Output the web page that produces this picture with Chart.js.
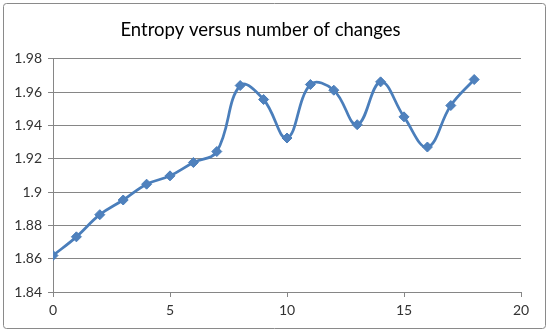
<!DOCTYPE html>
<html><head><meta charset="utf-8">
<script src="https://cdn.jsdelivr.net/npm/chart.js@4/dist/chart.umd.min.js"></script>
<style>html,body{margin:0;padding:0;background:#fff}#wrap{width:550px;height:333px;position:relative}</style>
</head><body><div id="wrap"><canvas id="c" width="550" height="333"></canvas></div>
<script>
const changes = [0,1,2,3,4,5,6,7,8,9,10,11,12,13,14,15,16,17,18];
const entropy = [1.8619,1.8731,1.8864,1.8952,1.9047,1.9097,1.9177,1.9243,1.9639,1.9555,1.9324,1.9645,1.9611,1.9404,1.9661,1.9451,1.9270,1.9519,1.9675];
const xTickValues = [0,5,10,15,20];
const yTickValues = [1.84,1.86,1.88,1.90,1.92,1.94,1.96,1.98];
const titleText = 'Entropy versus number of changes';

const points = changes.map((x,i)=>({x:x,y:entropy[i]}));

const borderPlugin = {
  id:'outerBorder',
  beforeDraw(chart){
    const ctx = chart.ctx;
    ctx.save();
    ctx.fillStyle='#ffffff';
    ctx.fillRect(0,0,chart.width,chart.height);
    ctx.strokeStyle='#8a8a8a';
    ctx.lineWidth=1;
    ctx.beginPath();
    ctx.roundRect(3.5,3.5,542,325,3);
    ctx.stroke();
    ctx.restore();
  }
};

new Chart(document.getElementById('c'),{
  type:'scatter',
  data:{datasets:[{
    data:points,
    showLine:true,
    borderColor:'#4A7EBB',
    borderWidth:2.75,
    tension:0.4,
    pointStyle:'rectRot',
    pointRadius:5,
    pointBackgroundColor:'#4F81BD',
    pointBorderColor:'#4A7EBB',
    pointBorderWidth:1
  }]},
  options:{
    responsive:false,
    animation:false,
    devicePixelRatio:1,
    layout:{padding:{left:0,right:29,top:0,bottom:0}},
    plugins:{
      legend:{display:false},
      tooltip:{enabled:false},
      title:{display:true,text:titleText,color:'#000',
        font:{family:'Lato',size:18.5,weight:'normal',lineHeight:1.2},
        padding:{top:19,bottom:17.5}}
    },
    scales:{
      x:{type:'linear',min:0,max:20,
        afterBuildTicks(s){s.ticks=xTickValues.map(v=>({value:v}));},
        afterFit(s){s.height=41;},
        grid:{display:true,drawOnChartArea:false,drawTicks:true,tickLength:5,color:'#868686'},
        border:{display:true,color:'#868686'},
        ticks:{color:'#333333',padding:5,font:{family:'Lato',size:14},maxRotation:0}
      },
      y:{type:'linear',min:1.84,max:1.98,
        afterBuildTicks(s){s.ticks=yTickValues.map(v=>({value:v}));},
        afterFit(s){s.width=53;},
        grid:{color:'#868686',tickLength:5,drawTicks:true},
        border:{display:true,color:'#868686'},
        ticks:{color:'#333333',padding:6,font:{family:'Lato',size:14},
          callback:v=>String(+(+v).toFixed(2))}
      }
    }
  },
  plugins:[borderPlugin]
});
</script></body></html>
